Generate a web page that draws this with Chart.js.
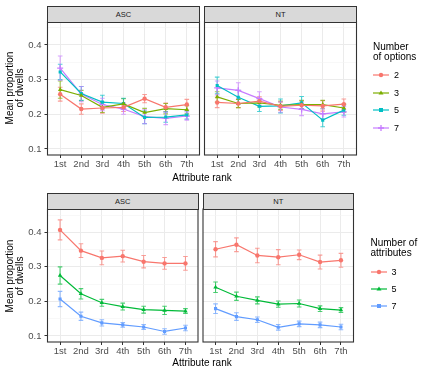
<!DOCTYPE html>
<html>
<head>
<meta charset="utf-8">
<script src="https://cdn.jsdelivr.net/npm/chart.js@4.4.1/dist/chart.umd.min.js"></script>
<style>
  body { margin: 0; background: #fff; font-family: "Liberation Sans", Arial, sans-serif; }
  #wrap { position: relative; width: 428px; height: 375px; overflow: hidden; }
  #wrap canvas { position: absolute; left: 0; top: 0; }
  .strip { position: absolute; box-sizing: border-box; background: #d9d9d9; border: 1.1px solid #333;
           font-size: 7.5px; color: #1a1a1a; text-align: center; }
  .txt { position: absolute; font-size: 10px; color: #000; white-space: nowrap; line-height: 10px; }
  .ytitle { position: absolute; width: 100px; height: 20px; font-size: 10px; line-height: 10px;
            text-align: center; transform: rotate(-90deg); color: #000; }
</style>
</head>
<body>
<div id="wrap">
  <canvas id="c1" width="428" height="375"></canvas>
  <canvas id="c2" width="428" height="375"></canvas>
  <canvas id="c3" width="428" height="375"></canvas>
  <canvas id="c4" width="428" height="375"></canvas>
</div>
<script>
// ---- data ----
const ranks = ["1st", "2nd", "3rd", "4th", "5th", "6th", "7th"];
const yTickValues = [0.1, 0.15, 0.2, 0.25, 0.3, 0.35, 0.4, 0.45];
const yTickLabels = ["0.1", "", "0.2", "", "0.3", "", "0.4", ""];

const optionLevels = ["2", "3", "5", "7"];
const attributeLevels = ["3", "5", "7"];

// top row: by number of options
const ascOptMean = [
  [0.258, 0.215, 0.218, 0.220, 0.245, 0.220, 0.228],
  [0.271, 0.254, 0.220, 0.230, 0.205, 0.216, 0.213],
  [0.322, 0.260, 0.235, 0.231, 0.191, 0.192, 0.198],
  [0.333, 0.258, 0.228, 0.215, 0.193, 0.188, 0.195],
];
const ascOptErr = [
  [0.020, 0.015, 0.015, 0.012, 0.012, 0.012, 0.015],
  [0.025, 0.015, 0.015, 0.015, 0.012, 0.015, 0.012],
  [0.022, 0.020, 0.020, 0.015, 0.018, 0.015, 0.012],
  [0.035, 0.022, 0.018, 0.015, 0.020, 0.018, 0.012],
];
const ntOptMean = [
  [0.234, 0.231, 0.238, 0.223, 0.226, 0.224, 0.229],
  [0.250, 0.231, 0.233, 0.226, 0.228, 0.228, 0.218],
  [0.283, 0.249, 0.223, 0.224, 0.233, 0.183, 0.212],
  [0.276, 0.269, 0.245, 0.221, 0.214, 0.201, 0.207],
];
const ntOptErr = [
  [0.015, 0.012, 0.012, 0.012, 0.012, 0.015, 0.015],
  [0.015, 0.012, 0.012, 0.012, 0.012, 0.012, 0.012],
  [0.024, 0.020, 0.015, 0.020, 0.018, 0.019, 0.015],
  [0.020, 0.022, 0.020, 0.015, 0.018, 0.015, 0.015],
];

// bottom row: by number of attributes
const ascAttrMean = [
  [0.407, 0.347, 0.326, 0.331, 0.315, 0.310, 0.310],
  [0.275, 0.222, 0.196, 0.185, 0.176, 0.174, 0.172],
  [0.207, 0.157, 0.138, 0.132, 0.126, 0.113, 0.123],
];
const ascAttrErr = [
  [0.029, 0.020, 0.020, 0.017, 0.018, 0.017, 0.020],
  [0.025, 0.015, 0.010, 0.010, 0.010, 0.012, 0.007],
  [0.022, 0.012, 0.009, 0.007, 0.007, 0.008, 0.008],
];
const ntAttrMean = [
  [0.351, 0.364, 0.333, 0.328, 0.335, 0.314, 0.319],
  [0.241, 0.215, 0.203, 0.192, 0.194, 0.179, 0.175],
  [0.179, 0.156, 0.147, 0.125, 0.135, 0.132, 0.126],
];
const ntAttrErr = [
  [0.022, 0.020, 0.021, 0.022, 0.014, 0.020, 0.020],
  [0.015, 0.012, 0.010, 0.009, 0.010, 0.008, 0.007],
  [0.014, 0.011, 0.008, 0.008, 0.008, 0.008, 0.008],
];

const optColors = ["#F8766D", "#7CAE00", "#00BFC4", "#C77CFF"];
const optShapes = ["circle", "triangle", "rect", "cross"];
const attrColors = ["#F8766D", "#00BA38", "#619CFF"];
const attrShapes = ["circle", "triangle", "rect"];

// ---- layout ----
const W = 428, H = 375, XAXIS_H = 22;
const Y_MIN = 0.0825, Y_MAX = 0.4675;
const CAP = 0.11;

const errorBars = {
  id: "errorBars",
  beforeDatasetsDraw(chart) {
    const { ctx, chartArea: a, scales: { x, y } } = chart;
    ctx.save();
    ctx.beginPath();
    ctx.rect(a.left, a.top, a.right - a.left, a.bottom - a.top);
    ctx.clip();
    chart.data.datasets.forEach((ds) => {
      ctx.strokeStyle = ds.borderColor;
      ctx.globalAlpha = 0.7;
      ctx.lineWidth = 1.1;
      ds.data.forEach((p, i) => {
        const e = ds.err[i];
        const px = x.getPixelForValue(p.x);
        const lo = y.getPixelForValue(p.y - e);
        const hi = y.getPixelForValue(p.y + e);
        const l = x.getPixelForValue(p.x - CAP);
        const r = x.getPixelForValue(p.x + CAP);
        ctx.beginPath();
        ctx.moveTo(px, lo); ctx.lineTo(px, hi);
        ctx.moveTo(l, lo); ctx.lineTo(r, lo);
        ctx.moveTo(l, hi); ctx.lineTo(r, hi);
        ctx.stroke();
      });
    });
    ctx.restore();
  },
};

const frame = {
  id: "frame",
  afterDraw(chart) {
    const { ctx, chartArea: a } = chart;
    ctx.save();
    ctx.strokeStyle = "#333333";
    ctx.lineWidth = 1.1;
    ctx.strokeRect(a.left, a.top, a.right - a.left, a.bottom - a.top);
    ctx.restore();
  },
};

const isMajor = (v) => Math.round(v * 100) % 10 === 0;

function makePanel(id, box, levels, means, errs, colors, shapes, showY) {
  const datasets = levels.map((lv, k) => ({
    label: lv,
    data: means[k].map((v, i) => ({ x: i + 1, y: v })),
    err: errs[k],
    borderColor: colors[k],
    backgroundColor: colors[k],
    borderWidth: 1.2,
    pointStyle: shapes[k],
    pointRadius: shapes[k] === "cross" ? 3 : shapes[k] === "triangle" ? 2.6 : 2.2,
    pointBorderWidth: shapes[k] === "cross" ? 1.3 : 0,
    pointHoverRadius: 0,
  }));

  new Chart(document.getElementById(id), {
    type: "line",
    data: { datasets },
    plugins: [errorBars, frame],
    options: {
      responsive: false,
      animation: false,
      layout: {
        padding: {
          left: showY ? 0 : box.l,
          right: W - box.r,
          top: box.t,
          bottom: H - box.b - XAXIS_H,
        },
      },
      plugins: { legend: { display: false }, tooltip: { enabled: false } },
      scales: {
        x: {
          type: "linear",
          min: 0.4,
          max: 7.6,
          afterBuildTicks: (axis) => { axis.ticks = ranks.map((r, i) => ({ value: i + 1 })); },
          afterFit: (axis) => { axis.height = XAXIS_H; },
          border: { display: false },
          grid: { color: "#EBEBEB", lineWidth: 1, tickLength: 3, tickColor: "#333333" },
          ticks: {
            color: "#4D4D4D",
            padding: 1,
            maxRotation: 0,
            font: { family: "Liberation Sans", size: 9.5 },
            callback: (v) => ranks[v - 1],
          },
        },
        y: {
          min: Y_MIN,
          max: Y_MAX,
          afterBuildTicks: (axis) => { axis.ticks = yTickValues.map((v) => ({ value: v })); },
          afterFit: (axis) => { axis.width = showY ? box.l : 0; },
          border: { display: false },
          grid: {
            color: (c) => (c.tick && isMajor(c.tick.value) ? "#EBEBEB" : "#F3F3F3"),
            lineWidth: (c) => (c.tick && isMajor(c.tick.value) ? 1 : 0.6),
            drawTicks: showY,
            tickLength: 3,
            tickColor: (c) => (c.tick && isMajor(c.tick.value) ? "#333333" : "rgba(0,0,0,0)"),
          },
          ticks: {
            display: showY,
            color: "#4D4D4D",
            padding: 3,
            font: { family: "Liberation Sans", size: 9.5 },
            callback: (v, i) => yTickLabels[i],
          },
        },
      },
    },
  });
}

const topAsc = { l: 47.5, r: 199.5, t: 21.5, b: 155 };
const topNt = { l: 204.5, r: 356.5, t: 21.5, b: 155 };
const botAsc = { l: 47.5, r: 198, t: 209, b: 342 };
const botNt = { l: 203, r: 353.5, t: 209, b: 342 };

makePanel("c1", topAsc, optionLevels, ascOptMean, ascOptErr, optColors, optShapes, true);
makePanel("c2", topNt, optionLevels, ntOptMean, ntOptErr, optColors, optShapes, false);
makePanel("c3", botAsc, attributeLevels, ascAttrMean, ascAttrErr, attrColors, attrShapes, true);
makePanel("c4", botNt, attributeLevels, ntAttrMean, ntAttrErr, attrColors, attrShapes, false);

// ---- strips, titles, legends (html) ----
const wrap = document.getElementById("wrap");
function addDiv(cls, css, html) {
  const d = document.createElement("div");
  d.className = cls;
  Object.assign(d.style, css);
  d.innerHTML = html;
  wrap.appendChild(d);
  return d;
}
function strip(box, label, h) {
  addDiv("strip", {
    left: box.l - 0.5 + "px", top: box.t - h + "px",
    width: box.r - box.l + 1 + "px", height: h + 1 + "px", lineHeight: h - 1 + "px",
  }, label);
}
strip(topAsc, "ASC", 16);
strip(topNt, "NT", 16);
strip(botAsc, "ASC", 16);
strip(botNt, "NT", 16);

function yTitle(cy) {
  addDiv("ytitle", { left: 15 - 50 + "px", top: cy - 10 + "px" }, "Mean proportion<br>of dwells");
}
yTitle(88);
yTitle(275.5);

function xTitle(cy) {
  addDiv("txt", { left: "0px", width: "404px", textAlign: "center", top: cy - 5 + "px" }, "Attribute rank");
}
xTitle(177.5);
xTitle(363);

function keySvg(color, shape) {
  let mark = "";
  if (shape === "circle") mark = `<circle cx="8" cy="5" r="2.2" fill="${color}"/>`;
  if (shape === "triangle") mark = `<polygon points="8,2.4 10.5,6.6 5.5,6.6" fill="${color}"/>`;
  if (shape === "rect") mark = `<rect x="6" y="3" width="4" height="4" fill="${color}"/>`;
  if (shape === "cross") mark = `<path d="M8 2V8M5 5H11" stroke="${color}" stroke-width="1.3"/>`;
  return `<svg width="16" height="10" style="display:block"><line x1="0" y1="5" x2="16" y2="5" stroke="${color}" stroke-width="1.2"/>${mark}</svg>`;
}
function legend(x, titleY, title, levels, colors, shapes, keyYs) {
  addDiv("txt", { left: x + "px", top: titleY + "px" }, title);
  levels.forEach((lv, k) => {
    addDiv("txt", { left: x + "px", top: keyYs[k] - 5 + "px" }, keySvg(colors[k], shapes[k]));
    addDiv("txt", { left: x + 21 + "px", top: keyYs[k] - 5 + "px", fontSize: "9px" }, lv);
  });
}
legend(373, 42, "Number<br>of options", optionLevels, optColors, optShapes, [75, 92.5, 110, 127.5]);
legend(370.5, 238, "Number of<br>attributes", attributeLevels, attrColors, attrShapes, [271.5, 289, 306]);
</script>
</body>
</html>
